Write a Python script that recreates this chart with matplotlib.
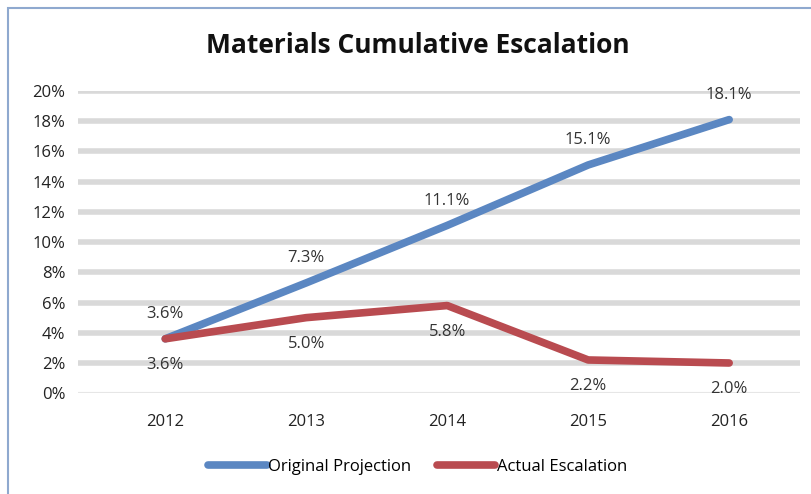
import matplotlib.pyplot as plt
from matplotlib.patches import Rectangle
from matplotlib.ticker import FuncFormatter

years = ['2012', '2013', '2014', '2015', '2016']
original = [3.6, 7.3, 11.1, 15.1, 18.1]
actual = [3.6, 5.0, 5.8, 2.2, 2.0]

plt.rcParams['font.family'] = ['Open Sans', 'DejaVu Sans']

fig = plt.figure(figsize=(8.11, 4.94), dpi=100)
ax = fig.add_axes([0.096, 0.204, 0.89, 0.612])

# bordes del recuadro
fig.patches.append(Rectangle((0.01, -0.01), 1.2, 0.994, transform=fig.transFigure,
                             fill=False, edgecolor='#8fa9cf', lw=1.5))

x = list(range(len(years)))
ax.set_xlim(-0.62, 4.5)
ax.set_ylim(0, 20)

for v in range(2, 21, 2):
    ax.axhline(v, color='#d9d9d9', lw=4, zorder=0)
ax.axhline(0, color='#e6e6e6', lw=1.5, zorder=0)

ax.plot(x, original, color='#5b87c2', lw=5.5, solid_capstyle='round', label='Original Projection')
ax.plot(x, actual, color='#b94b50', lw=5.5, solid_capstyle='round', label='Actual Escalation')

for i, v in enumerate(original):
    ax.annotate(f'{v:.1f}%', (i, v), xytext=(0, 12), textcoords='offset points',
                ha='center', va='bottom', fontsize=12, color='#333333')
for i, v in enumerate(actual):
    ax.annotate(f'{v:.1f}%', (i, v), xytext=(0, -13), textcoords='offset points',
                ha='center', va='top', fontsize=12, color='#333333')

ax.set_xticks(x)
ax.set_xticklabels(years)
ax.set_yticks(range(0, 21, 2))
ax.yaxis.set_major_formatter(FuncFormatter(lambda v, p: f'{v:.0f}%'))
ax.tick_params(length=0, labelsize=12, colors='#222222')
ax.tick_params(axis='x', pad=15)
ax.tick_params(axis='y', pad=9)
for s in ax.spines.values():
    s.set_visible(False)

fig.suptitle('Materials Cumulative Escalation', x=0.515, y=0.935, fontsize=19,
             fontweight='bold', color='#111111')
fig.legend(loc='center', bbox_to_anchor=(0.515, 0.055), ncol=2, frameon=False,
           fontsize=12, handlelength=3.5, handletextpad=0.1, columnspacing=1.5)

fig.savefig('out.png', dpi=100)
